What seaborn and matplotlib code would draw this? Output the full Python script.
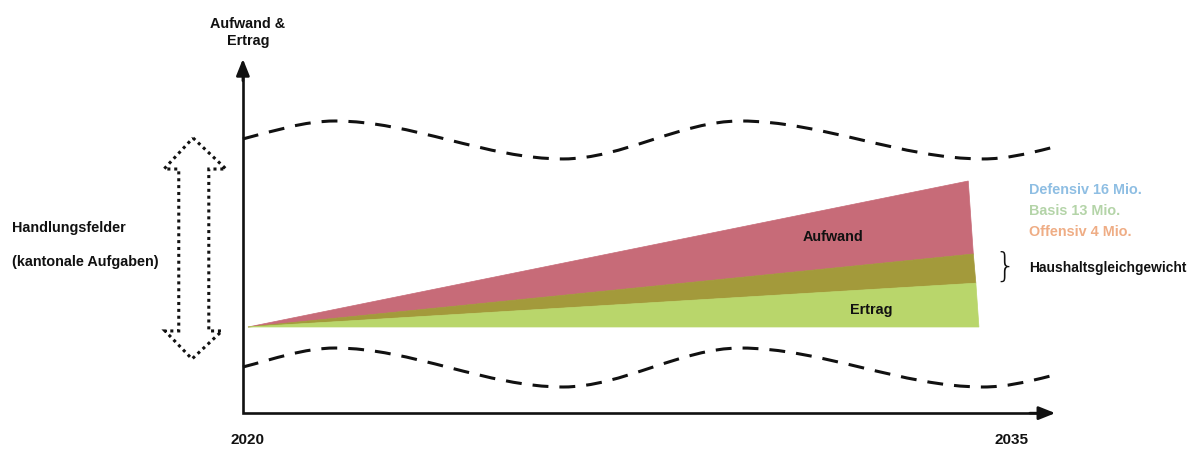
import matplotlib
matplotlib.use("Agg")
import matplotlib.pyplot as plt
from matplotlib.path import Path
from matplotlib.patches import PathPatch, Polygon
import seaborn as sns

# ---- time axis (years) and value axis (arbitrary level units) ----
start_year = 2020
end_year = 2035
axis_year = 2019.9          # where the vertical axis stands
axis_base = -5.9            # level of the horizontal axis
axis_top = 18.36            # tip of the vertical arrow
axis_right = 2035.86        # tip of the horizontal arrow

# ---- Aufwand / Ertrag wedge ----
apex_year = 2020.0
apex_level = 0.0
edge_years = [2034.15, 2034.25, 2034.30, 2034.36]
edge_levels = [10.0, 5.0, 3.0, 0.0]
band_colors = ["#C76B78", "#A39A3B", "#B9D66B"]

# ---- wavy bounds of the Handlungsfelder ----
wave_years = [2019.9, 2021.71, 2026.19, 2029.67, 2034.44, 2035.76]
upper_wave = [12.88, 14.11, 11.51, 14.11, 11.51, 12.26]
lower_wave = [-2.74, -1.44, -4.11, -1.44, -4.11, -3.36]
wave_end_slope = 0.9

# ---- dotted double arrow (outline, clockwise from the top tip) ----
arrow_x = [2018.92, 2019.57, 2019.23, 2019.23, 2019.49, 2018.90,
           2018.37, 2018.64, 2018.64, 2018.35]
arrow_y = [12.95, 10.82, 10.82, -0.27, -0.27, -2.19,
           -0.27, -0.27, 10.82, 10.82]

# ---- labels ----
scenario_labels = ["Defensiv 16 Mio.", "Basis 13 Mio.", "Offensiv 4 Mio."]
scenario_colors = ["#8EBEE3", "#B4D4A8", "#EFAD85"]
scenario_levels = [9.38, 7.95, 6.51]
year_labels = ["2020", "2035"]

sns.set_theme(style="white")
plt.rcParams["font.family"] = ["Liberation Sans", "DejaVu Sans"]

fig = plt.figure(figsize=(11.89, 4.5), dpi=100)
ax = fig.add_axes([0, 0, 1, 1])
ax.set_xlim(2015.128, 2038.487)
ax.set_ylim(-8.425, 22.397)
ax.axis("off")

ink = "#111111"

# wedge bands: Aufwand (top), overlap, Ertrag (bottom)
for i, color in enumerate(band_colors):
    pts = [(apex_year, apex_level),
           (edge_years[i], edge_levels[i]),
           (edge_years[i + 1], edge_levels[i + 1])]
    ax.add_patch(Polygon(pts, closed=True, facecolor=color,
                         edgecolor=color, lw=0.5, zorder=2))


def wave_path(xs, ys, m_end):
    """Smooth curve through extrema with horizontal tangents."""
    n = len(xs)
    slopes = [m_end] + [0.0] * (n - 2) + [m_end]
    verts = [(xs[0], ys[0])]
    codes = [Path.MOVETO]
    for i in range(n - 1):
        d = xs[i + 1] - xs[i]
        verts += [(xs[i] + d / 3, ys[i] + slopes[i] * d / 3),
                  (xs[i + 1] - d / 3, ys[i + 1] - slopes[i + 1] * d / 3),
                  (xs[i + 1], ys[i + 1])]
        codes += [Path.CURVE4] * 3
    return Path(verts, codes)


for levels in (upper_wave, lower_wave):
    ax.add_patch(PathPatch(wave_path(wave_years, levels, wave_end_slope),
                           fill=False, edgecolor=ink, lw=2.2,
                           linestyle=(0, (5.2, 3.6)), capstyle="butt",
                           zorder=3))

# axes with arrow heads
ax.plot([axis_year, axis_year, axis_right - 0.2],
        [axis_top - 0.6, axis_base, axis_base],
        color=ink, lw=1.9, solid_joinstyle="miter", zorder=4)
head = dict(arrowstyle="-|>,head_length=0.5,head_width=0.2",
            color=ink, lw=1.9, mutation_scale=20, shrinkA=0, shrinkB=0)
ax.annotate("", xy=(axis_year, axis_top), xytext=(axis_year, axis_top - 1.5),
            arrowprops=head, zorder=4)
ax.annotate("", xy=(axis_right, axis_base), xytext=(axis_right - 0.5, axis_base),
            arrowprops=head, zorder=4)

# dotted double arrow
ax.add_patch(Polygon(list(zip(arrow_x, arrow_y)), closed=True, fill=False,
                     edgecolor=ink, lw=2.2, linestyle=(0, (1, 1.25)),
                     capstyle="butt", zorder=3))

fs = 10.4
bold = dict(fontweight="bold", color=ink, fontsize=fs)

ax.text(axis_year + 0.1, 20.15, "Aufwand &\nErtrag", ha="center", va="center",
        linespacing=1.3, **bold)
ax.text(2015.36, 6.78, "Handlungsfelder", ha="left", va="center", **bold)
ax.text(2015.36, 4.45, "(kantonale Aufgaben)", ha="left", va="center", **bold)
ax.text(2031.49, 6.16, "Aufwand", ha="center", va="center", **bold)
ax.text(2032.24, 1.16, "Ertrag", ha="center", va="center", **bold)

for label, color, level in zip(scenario_labels, scenario_colors, scenario_levels):
    ax.text(2035.34, level, label, ha="left", va="center",
            fontweight="bold", fontsize=fs, color=color)

ax.text(2034.88, 4.1, "}", ha="center", va="center", fontsize=24,
        fontweight="light", family=["DejaVu Sans"], color=ink)
ax.text(2035.34, 4.04, "Haushaltsgleichgewicht", ha="left", va="center",
        fontweight="bold", color=ink, fontsize=9.9)

for year, label in zip([start_year, end_year], year_labels):
    ax.text(year, -7.74, label, ha="center", va="center",
            fontweight="bold", fontsize=11, color=ink)

fig.savefig("out.png", dpi=100, facecolor="white")
